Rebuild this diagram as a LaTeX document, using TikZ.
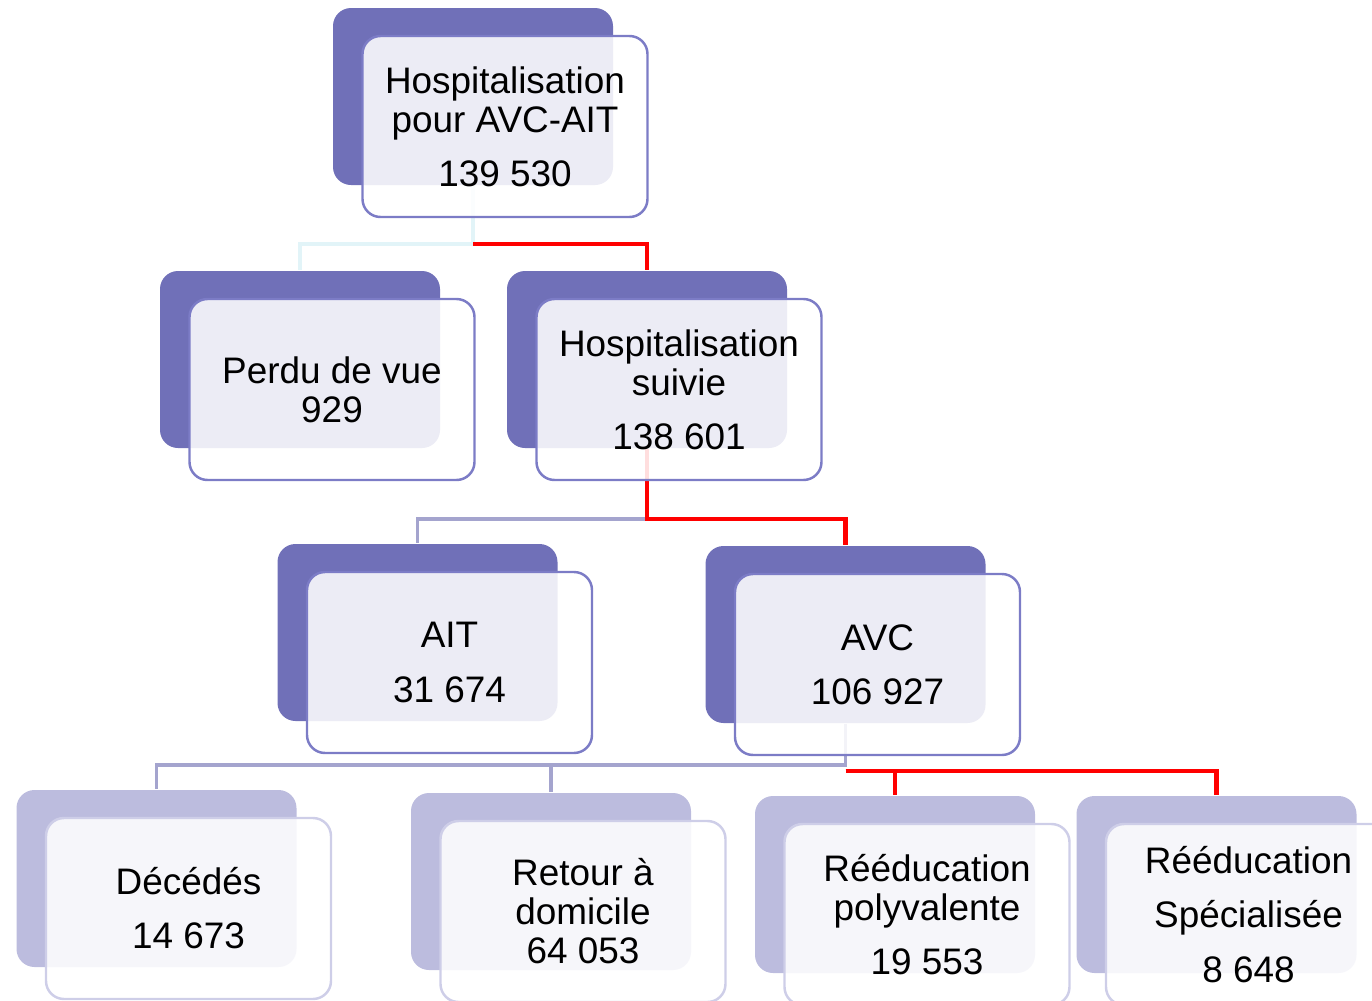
\documentclass[tikz,border=0pt]{standalone}
\usepackage{fontspec}
\setmainfont{Liberation Sans}
\usetikzlibrary{calc}

\definecolor{backc}{HTML}{7070B8}
\definecolor{backl}{HTML}{BCBCDE}
\definecolor{frontc}{HTML}{7C7CC6}
\definecolor{frontl}{HTML}{CECEE8}
\definecolor{palec}{HTML}{E2F4F8}
\definecolor{greyc}{HTML}{A4A4CE}

\begin{document}
\begin{tikzpicture}[x=0.1mm,y=-0.1mm,
  font=\fontsize{10.5}{11.1}\selectfont,
  backbox/.style={rectangle,rounded corners=1.8mm,minimum width=28mm,
    minimum height=17.7mm,inner sep=0pt,fill=backc},
  backlow/.style={backbox,fill=backl},
  frontbox/.style={rectangle,rounded corners=1.8mm,minimum width=28.5mm,
    minimum height=18.1mm,inner sep=0pt,align=center,fill=white,
    fill opacity=.87,text opacity=1,draw=frontc,line width=.7pt},
  frontlow/.style={frontbox,draw=frontl},
  lnpale/.style={palec,line width=1.1pt},
  lngrey/.style={greyc,line width=1.1pt},
  lnred/.style={red,line width=1.2pt}]
 \useasboundingbox (0,0) rectangle (1372,1000);
 \clip (0,0) rectangle (1372,1000);
 % back boxes
 \node[backbox] (bA) at (473,96.5) {};
 \node[backbox] (bB) at (300,359.5) {};
 \node[backbox] (bC) at (647,359.5) {};
 \node[backbox] (bD) at (417.5,632.5) {};
 \node[backbox] (bE) at (845.5,634.5) {};
 \node[backlow] (bF) at (156.5,878.5) {};
 \node[backlow] (bG) at (551,881.5) {};
 \node[backlow] (bH) at (895,884.5) {};
 \node[backlow] (bI) at (1216.5,884.5) {};
 % connectors
 \coordinate (jA) at ($(bA.south)+(0,58)$);
 \coordinate (jE) at ($(bE.south)+(0,47)$);
 \draw[lnpale] (bA.south) -- (jA) -| (bB.north);
 \draw[lnred] (jA) -| (bC.north);
 \draw[lngrey] (bC.south) -- ++(0,70) -| (bD.north);
 \draw[lnred] (bC.south) -- ++(0,70) -| (bE.north);
 \draw[lngrey] (bE.south) -- ++(0,41) -| (bF.north);
 \draw[lngrey] (bE.south) -- ++(0,41) -| (bG.north);
 \draw[lnred] (jE) -| (bH.north);
 \draw[lnred] (jE) -| (bI.north);
 % front boxes
 \node[frontbox] (fA) at ($(bA)+(32,30)$)
   {Hospitalisation\\pour AVC-AIT\\[4.3pt]139 530};
 \node[frontbox] (fB) at ($(bB)+(32,30)$) {Perdu de vue\\929};
 \node[frontbox] (fC) at ($(bC)+(32,30)$)
   {Hospitalisation\\suivie\\[4.3pt]138 601};
 \node[frontbox] (fD) at ($(bD)+(32,30)$) {AIT\\[4.3pt]31 674};
 \node[frontbox] (fE) at ($(bE)+(32,30)$) {AVC\\[4.3pt]106 927};
 \node[frontlow] (fF) at ($(bF)+(32,30)$) {Décédés\\[4.3pt]14 673};
 \node[frontlow] (fG) at ($(bG)+(32,30)$) {Retour à\\domicile\\64 053};
 \node[frontlow] (fH) at ($(bH)+(32,30)$)
   {Rééducation\\polyvalente\\[4.3pt]19 553};
 \node[frontlow] (fI) at ($(bI)+(32,30)$)
   {Rééducation\\[4.3pt]Spécialisée\\[4.3pt]8 648};
\end{tikzpicture}
\end{document}
